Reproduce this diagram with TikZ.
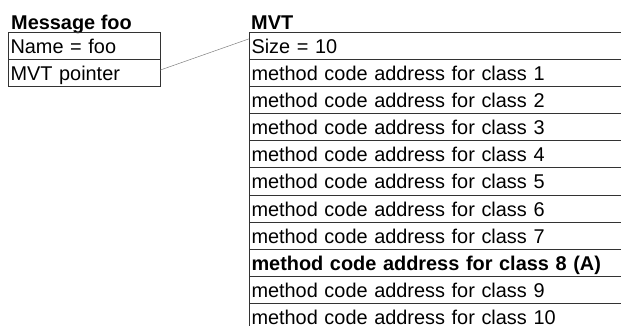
\documentclass[tikz,border=0pt]{standalone}
\usepackage{fontspec}
\setmainfont{Liberation Sans}
\usetikzlibrary{positioning}

\begin{document}
\begin{tikzpicture}[x=1pt,y=-1pt,
    cell/.style={draw=black!80,line width=0.7pt,rectangle,minimum height=27.1pt,outer sep=0pt,
      inner xsep=2.5pt,inner ysep=0pt,text height=18pt,text depth=2.9pt,align=left,
      font=\fontsize{19.9}{24}\selectfont},
    foocell/.style={cell,text width=147pt},
    mvtcell/.style={cell,text width=395pt},
    boldcell/.style={mvtcell,font=\fontsize{19.9}{24}\selectfont\bfseries},
    title/.style={font=\fontsize{19.9}{24}\selectfont\bfseries,inner sep=0pt,anchor=base west}]
        \useasboundingbox (0,0) rectangle (621,326);
        \clip (0,0) rectangle (621,326);
        % message object
        \node[title] (msgtitle) at (11,29.5) {Message foo};
        \node[foocell,anchor=north west] (foo0) at (8,32.5) {Name = foo};
        \node[foocell,below=0pt of foo0] (foo1) {MVT pointer};
        % method vector table
        \node[title] (mvttitle) at (251,29.5) {MVT};
        \node[mvtcell,anchor=north west] (mvt0) at (249,32.3) {Size = 10};
        \foreach \i [count=\j from 0] in {1,...,10} {
          \ifnum\i=8
            \node[boldcell,below=0pt of mvt\j] (mvt\i) {method code address for class \i{} (A)};
          \else
            \node[mvtcell,below=0pt of mvt\j] (mvt\i) {method code address for class \i};
          \fi
        }
        \draw[gray,line width=0.5pt] ([yshift=3pt]foo1.east) -- ([yshift=7pt]mvt0.west);
      \end{tikzpicture}
\end{document}
